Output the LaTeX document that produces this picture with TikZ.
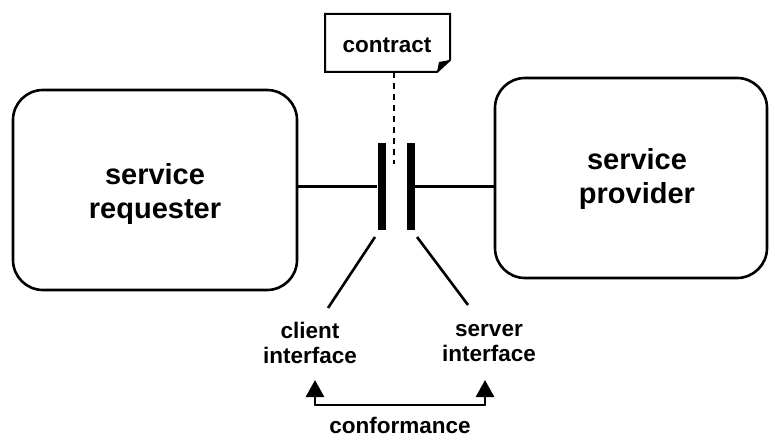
\documentclass[tikz,border=0pt]{standalone}
\usepackage{fontspec}
\setmainfont{Liberation Sans}
\usetikzlibrary{arrows.meta}
\tikzset{
  boxstyle/.style={draw, line width=2.6pt, rounded corners=30pt, inner sep=0pt},
  bigtext/.style={font=\bfseries\fontsize{29}{34}\selectfont, align=center},
  smalltext/.style={font=\bfseries\fontsize{22.5}{25.5}\selectfont, align=center},
  barstyle/.style={fill=black, draw=none, minimum width=8pt, minimum height=87pt, inner sep=0pt},
  conn/.style={line width=2.6pt},
  tipstyle/.style={-{Triangle[width=18pt,length=17pt]}}
}
\begin{document}
\begin{tikzpicture}[x=1pt,y=-1pt]
\useasboundingbox (0,0) rectangle (770,438);
% boxes
\node[boxstyle, minimum width=284pt, minimum height=200pt] (req) at (155,190) {};
\node[bigtext] (reqtxt) at (155,194) {service\\requester};
\node[boxstyle, minimum width=272pt, minimum height=200pt] (prov) at (631,178) {};
\node[bigtext] (provtxt) at (637,179) {service\\provider};
% bars
\node[barstyle] (cbar) at (381.5,186.5) {};
\node[barstyle] (sbar) at (411,186.5) {};
% contract note
\node[smalltext] (contract) at (387,45) {contract};
\coordinate (ctl) at (325,14);
\coordinate (ctr) at (450,14);
\coordinate (cfr) at (450,60);
\coordinate (cfb) at (437,72);
\coordinate (cbl) at (325,72);
\draw[line width=2pt] (ctl) -- (ctr) -- (cfr) -- (cfb) -- (cbl) -- cycle;
\fill (cfb) -- (cfr) -- (439,62) -- cycle;
\coordinate (dashtop) at (394,72);
\coordinate (dashbot) at (394,164);
\draw[line width=2pt, dash pattern=on 6pt off 5pt] (dashtop) -- (dashbot);
% horizontal connectors
\draw[conn] (req.east |- cbar.west) -- (cbar.west);
\draw[conn] (sbar.east) -- (prov.west |- sbar.east);
% interface labels
\node[smalltext] (cli) at (310,343) {client\\interface};
\node[smalltext] (srv) at (489,343) {server\\interface};
\coordinate (cd1) at (375,237);
\coordinate (cd2) at (328,308);
\coordinate (sd1) at (417,237);
\coordinate (sd2) at (468,305);
\draw[conn] (cd1) -- (cd2);
\draw[conn] (sd1) -- (sd2);
% conformance
\coordinate (ca) at (315,380);
\coordinate (sa) at (485,380);
\coordinate (cb) at (315,405);
\coordinate (sb) at (485,405);
\draw[conn, tipstyle] (cb) -- (ca);
\draw[conn, tipstyle] (sb) -- (sa);
\draw[conn, line cap=round] (cb) -- (sb);
\node[smalltext] (conf) at (400,425) {conformance};
\end{tikzpicture}
\end{document}
